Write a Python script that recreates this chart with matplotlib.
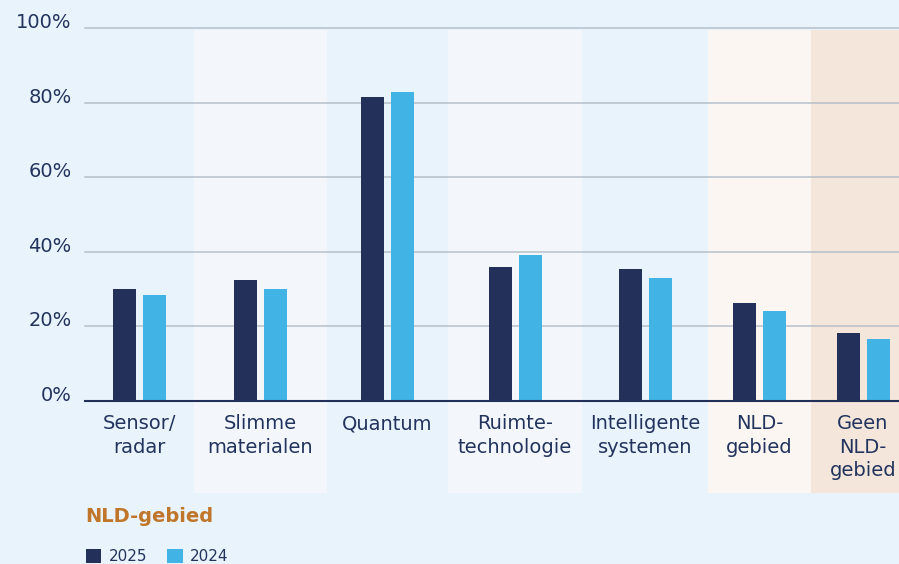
import matplotlib
matplotlib.use("Agg")
import matplotlib.pyplot as plt
import numpy as np

# ---- data ----
categories = ["Sensor/\nradar", "Slimme\nmaterialen", "Quantum", "Ruimte-\ntechnologie",
              "Intelligente\nsystemen", "NLD-\ngebied", "Geen\nNLD-\ngebied"]
values_2025 = [30.1, 32.4, 81.4, 35.8, 35.4, 26.3, 18.2]
values_2024 = [28.4, 30.1, 82.8, 39.1, 33.0, 24.2, 16.5]
series_labels = ["2025", "2024"]
ytick_values = [0, 20, 40, 60, 80, 100]
ytick_labels = ["0%", "20%", "40%", "60%", "80%", "100%"]
title_text = "NLD-gebied"

# ---- layout / style ----
W, H = 899, 564
BG = "#E9F3FC"
panel_edges = [85, 194, 327, 448, 582, 708, 811, 915]
panel_colors = [BG, "#F3F7FC", BG, "#F3F7FC", BG, "#FBF6F2", "#F4E6DA"]
NAVY = "#22305A"
LIGHT = "#41B4E5"
TEXT = "#22345E"
GRID = "#B6C0CB"
ORANGE = "#C0762A"

fig = plt.figure(figsize=(W / 100, H / 100), dpi=100, facecolor=BG)
ax_left, ax_bottom_px, ax_top_px = 85, 401, 28
ax = fig.add_axes([ax_left / W, 1 - ax_bottom_px / H, 1 - ax_left / W,
                   (ax_bottom_px - ax_top_px) / H])
ax.set_facecolor("none")
ax.set_xlim(85, 899)
ax.set_ylim(0, 100)

# background panels (extend below axis, behind labels)
panel_bottom = -(493 - ax_bottom_px) / (ax_bottom_px - ax_top_px)
panel_top = (ax_bottom_px - 29.5) / (ax_bottom_px - ax_top_px)
for i, c in enumerate(panel_colors):
    ax.axvspan(panel_edges[i], panel_edges[i + 1], ymin=panel_bottom, ymax=panel_top,
               color=c, lw=0, zorder=0, clip_on=False)

# gridlines
for v in ytick_values[1:]:
    ax.axhline(v, color=GRID, lw=1.1, zorder=1, clip_on=False)

centers = np.array([(panel_edges[i] + panel_edges[i + 1]) / 2 for i in range(len(categories))])
bw, off = 23, 15
ax.bar(centers - off, values_2025, width=bw, color=NAVY, zorder=3, label=series_labels[0])
ax.bar(centers + off, values_2024, width=bw, color=LIGHT, zorder=3, label=series_labels[1])

for s in ["top", "right", "left"]:
    ax.spines[s].set_visible(False)
ax.spines["bottom"].set_color(NAVY)
ax.spines["bottom"].set_linewidth(1.5)
ax.spines["bottom"].set_zorder(4)

ax.set_yticks(ytick_values)
ax.set_yticklabels(ytick_labels)
ax.tick_params(axis="y", length=0, pad=9.5, labelsize=14, labelcolor=TEXT)
for lab in ax.get_yticklabels():
    lab.set_va("baseline")

ax.set_xticks(centers)
ax.set_xticklabels(categories)
ax.tick_params(axis="x", length=0, pad=9.5, labelsize=14, labelcolor=TEXT)
for lab in ax.get_xticklabels():
    lab.set_linespacing(1.3)

fig.text(85 / W, 1 - 522 / H, title_text, color=ORANGE, fontsize=14,
         fontweight="bold", ha="left", va="baseline")

leg = ax.legend(loc="upper left", bbox_to_anchor=(86 / W, 1 - 549 / H),
                bbox_transform=fig.transFigure, ncol=2, frameon=False,
                fontsize=11, handlelength=1.0, handleheight=1.0,
                handletextpad=0.5, columnspacing=1.3, borderpad=0,
                borderaxespad=0)
for t in leg.get_texts():
    t.set_color(TEXT)

fig.savefig("out.png", dpi=100, facecolor=BG)
